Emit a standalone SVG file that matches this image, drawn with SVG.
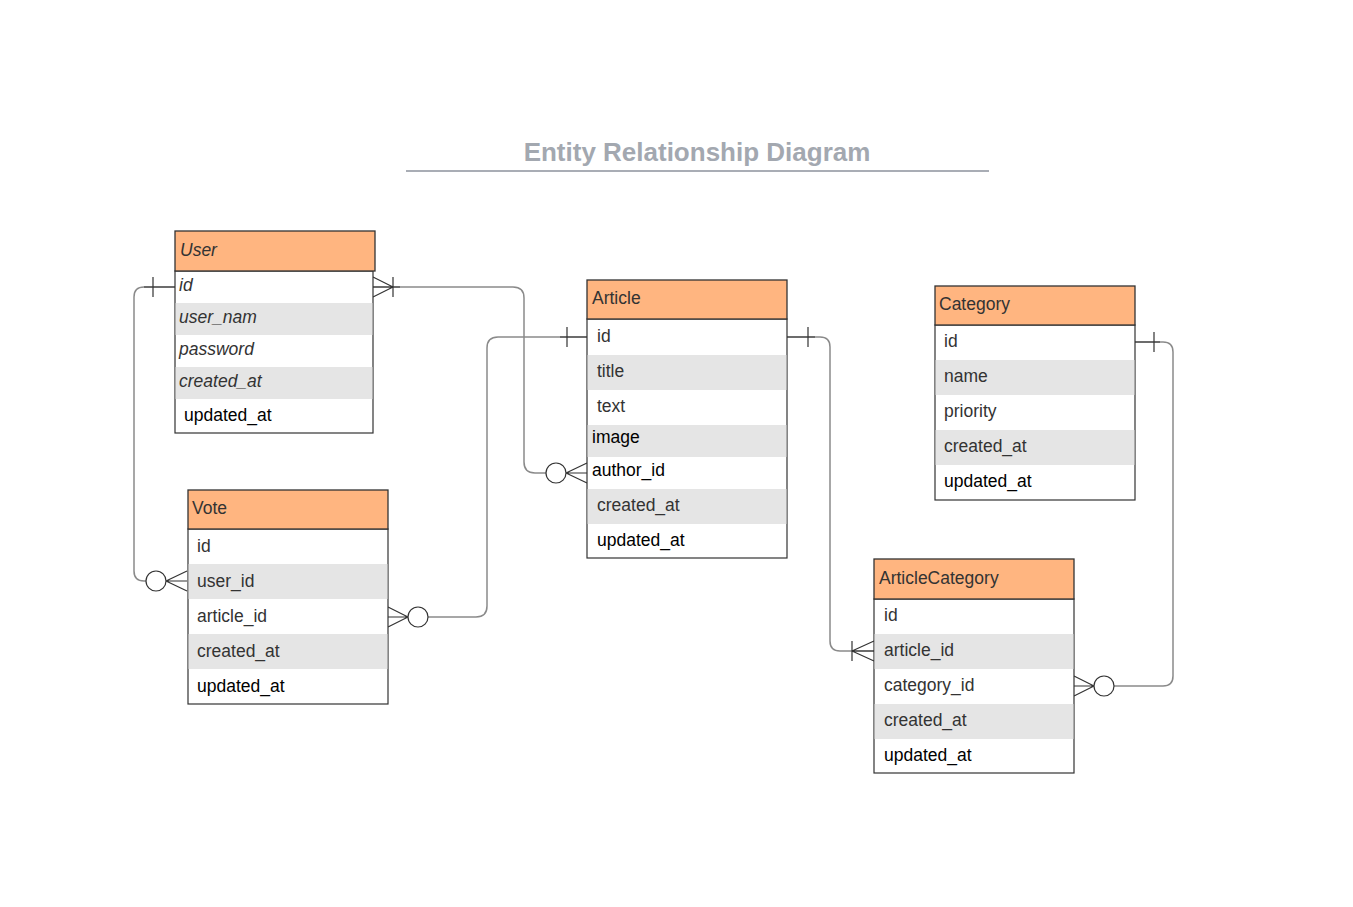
<svg xmlns="http://www.w3.org/2000/svg" width="1353" height="907" viewBox="0 0 1353 907">
<style>
.hdr{fill:#FFB580;stroke:#333;stroke-width:1.3}
.body{fill:#fff;stroke:#333;stroke-width:1.2}
.alt{fill:#e5e5e5}
.t{font-family:"Liberation Sans",Arial,sans-serif;font-size:17.5px;fill:#333}
.k{fill:#000}
.i{font-style:italic}
.wire{fill:none;stroke:#8a8a8a;stroke-width:1.5}
.end{fill:none;stroke:#333;stroke-width:1.2}
.ring{fill:#fff;stroke:#333;stroke-width:1.2}
.title{font-family:"Liberation Sans",Arial,sans-serif;font-size:26px;font-weight:bold;fill:#a3a8b0}
</style>
<rect width="1353" height="907" fill="#fff"/>
<g id="title">
<text class="title" x="697" y="161" text-anchor="middle">Entity Relationship Diagram</text>
<line x1="406" y1="171" x2="989" y2="171" stroke="#a9adb5" stroke-width="2"/>
</g>
<g id="connectors">
<!-- User.id -> Vote.user_id -->
<path class="wire" d="M175,287 H144 Q134,287 134,297 V571 Q134,581 144,581 H146"/>
<path class="end" d="M175,287 H144 M153,277 V297 M166,581 L187,571 M166,581 L187,581 M166,581 L187,591"/>
<circle class="ring" cx="156" cy="581" r="10"/>
<!-- User.id -> Article.author_id -->
<path class="wire" d="M373,287 H513 Q524,287 524,298 V462 Q524,473 535,473 H546"/>
<path class="end" d="M373,287 H400 M393,277 V297 M373,277 L393,287 M373,297 L393,287 M566,473 L587,463 M566,473 L587,473 M566,473 L587,483"/>
<circle class="ring" cx="556" cy="473" r="10"/>
<!-- Article.id -> Vote.article_id -->
<path class="wire" d="M587,337 H498 Q487,337 487,348 V606 Q487,617 476,617 H428"/>
<path class="end" d="M587,337 H560 M567,327 V347 M408,617 L388,607 M408,617 L388,617 M408,617 L388,627"/>
<circle class="ring" cx="418" cy="617" r="10"/>
<!-- Article.id -> ArticleCategory.article_id -->
<path class="wire" d="M787,337 H820 Q830,337 830,347 V641 Q830,651 840,651 H874"/>
<path class="end" d="M787,337 H815 M808,327 V347 M852,641 V661 M852,651 H874 M852,651 L874,641 M852,651 L874,661"/>
<!-- Category.id -> ArticleCategory.category_id -->
<path class="wire" d="M1135,342 H1163 Q1173,342 1173,352 V676 Q1173,686 1163,686 H1114"/>
<path class="end" d="M1135,342 H1160 M1154,332 V352 M1094,686 L1074,676 M1094,686 L1074,686 M1094,686 L1074,696"/>
<circle class="ring" cx="1104" cy="686" r="10"/>
</g>
<g id="User">
<rect class="body" x="175" y="271" width="198" height="162"/>
<rect class="alt" x="175.6" y="303" width="196.8" height="32"/>
<rect class="alt" x="175.6" y="367" width="196.8" height="32"/>
<rect class="hdr" x="175" y="231" width="200" height="40"/>
<text class="t i" x="180" y="256">User</text>
<text class="t i" x="179" y="291">id</text>
<text class="t i" x="179" y="323">user_nam</text>
<text class="t i" x="179" y="355">password</text>
<text class="t i" x="179" y="387">created_at</text>
<text class="t k" x="184" y="421">updated_at</text>
</g>
<g id="Vote">
<rect class="body" x="188" y="529" width="200" height="175"/>
<rect class="alt" x="188.6" y="564" width="198.8" height="35"/>
<rect class="alt" x="188.6" y="634" width="198.8" height="35"/>
<rect class="hdr" x="188" y="490" width="200" height="39"/>
<text class="t" x="192" y="514">Vote</text>
<text class="t" x="197" y="552">id</text>
<text class="t" x="197" y="587">user_id</text>
<text class="t" x="197" y="622">article_id</text>
<text class="t" x="197" y="657">created_at</text>
<text class="t k" x="197" y="692">updated_at</text>
</g>
<g id="Article">
<rect class="body" x="587" y="319" width="200" height="239"/>
<rect class="alt" x="587.6" y="355" width="198.8" height="35"/>
<rect class="alt" x="587.6" y="425" width="198.8" height="32"/>
<rect class="alt" x="587.6" y="489" width="198.8" height="35"/>
<rect class="hdr" x="587" y="280" width="200" height="39"/>
<text class="t" x="592" y="304">Article</text>
<text class="t" x="597" y="342">id</text>
<text class="t" x="597" y="377">title</text>
<text class="t" x="597" y="412">text</text>
<text class="t k" x="592" y="443">image</text>
<text class="t k" x="592" y="476">author_id</text>
<text class="t" x="597" y="511">created_at</text>
<text class="t k" x="597" y="546">updated_at</text>
</g>
<g id="Category">
<rect class="body" x="935" y="325" width="200" height="175"/>
<rect class="alt" x="935.6" y="360" width="198.8" height="35"/>
<rect class="alt" x="935.6" y="430" width="198.8" height="35"/>
<rect class="hdr" x="935" y="286" width="200" height="39"/>
<text class="t" x="939" y="310">Category</text>
<text class="t" x="944" y="347">id</text>
<text class="t" x="944" y="382">name</text>
<text class="t" x="944" y="417">priority</text>
<text class="t" x="944" y="452">created_at</text>
<text class="t k" x="944" y="487">updated_at</text>
</g>
<g id="ArticleCategory">
<rect class="body" x="874" y="599" width="200" height="174"/>
<rect class="alt" x="874.6" y="634" width="198.8" height="35"/>
<rect class="alt" x="874.6" y="704" width="198.8" height="35"/>
<rect class="hdr" x="874" y="559" width="200" height="40"/>
<text class="t" x="879" y="584">ArticleCategory</text>
<text class="t" x="884" y="621">id</text>
<text class="t" x="884" y="656">article_id</text>
<text class="t" x="884" y="691">category_id</text>
<text class="t" x="884" y="726">created_at</text>
<text class="t k" x="884" y="761">updated_at</text>
</g>
</svg>
